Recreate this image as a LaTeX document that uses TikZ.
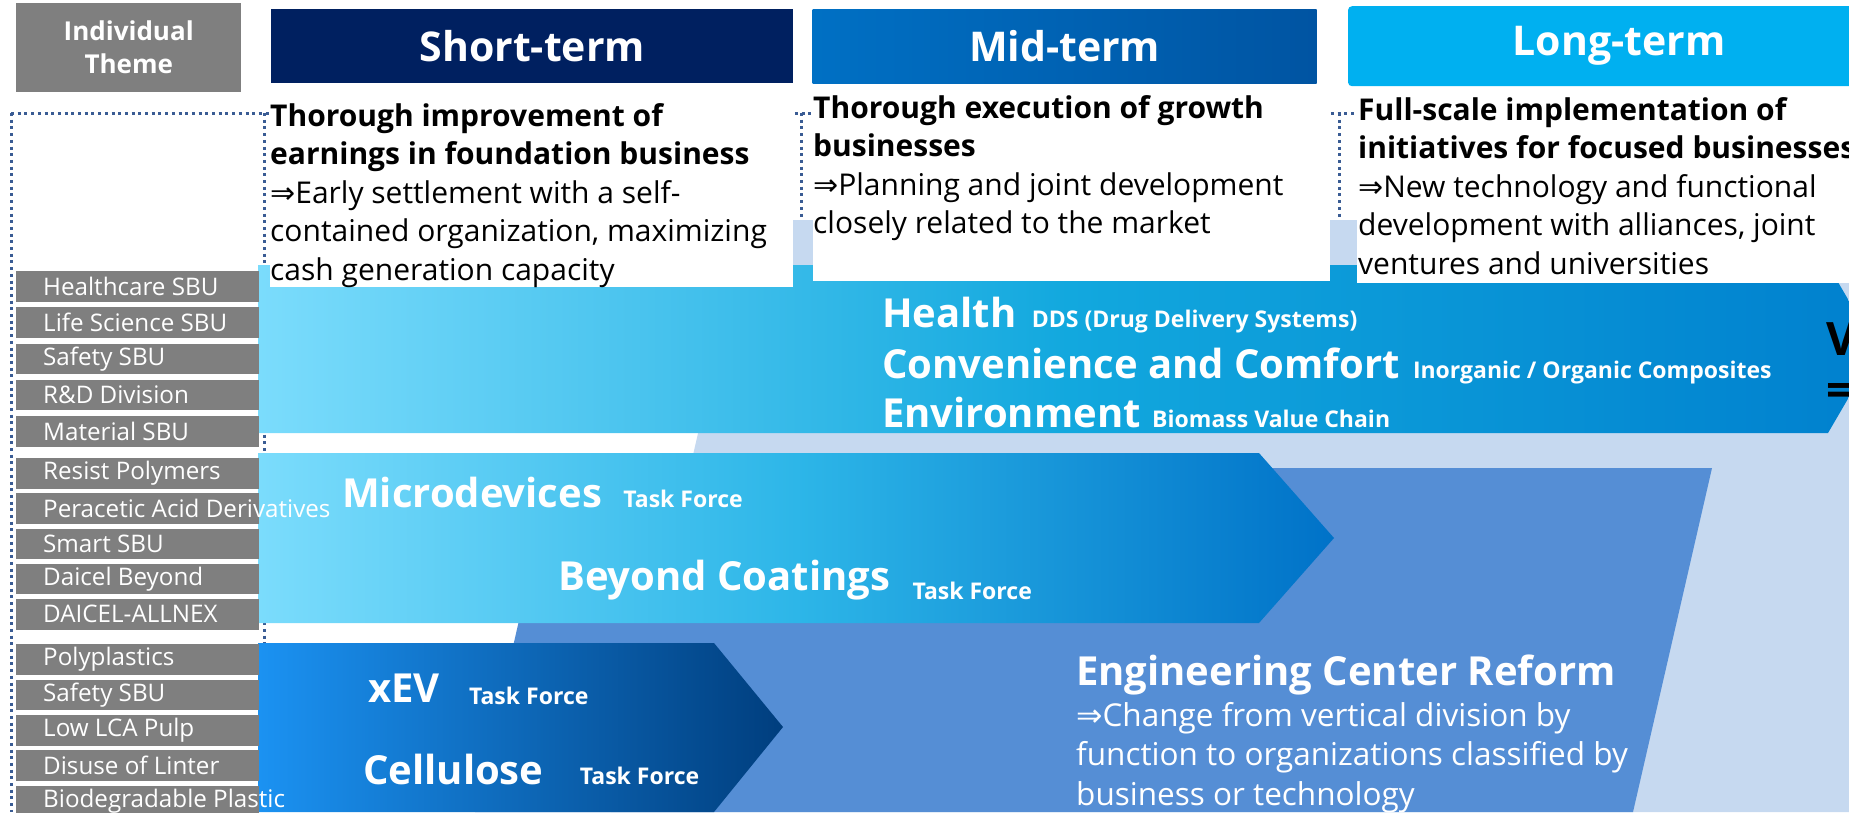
\documentclass[tikz,border=0pt]{standalone}
\usepackage{fontspec}
\setmainfont{Open Sans}
\newfontfamily\arrfont{DejaVu Sans}
\usepackage{tikz}
\usetikzlibrary{shapes,positioning,calc}

\definecolor{themegray}{HTML}{7F7F7F}
\definecolor{shortblue}{HTML}{002060}
\definecolor{midblueL}{HTML}{0070C4}
\definecolor{midblueR}{HTML}{0054A2}
\definecolor{longblue}{HTML}{00B0F0}
\definecolor{dotblue}{HTML}{3A5C94}
\definecolor{paleblue}{HTML}{C6D9F0}
\definecolor{reformblue}{HTML}{558ED5}
\definecolor{cyanL}{HTML}{7BDCFC}
\definecolor{bandM}{HTML}{12A8DE}
\definecolor{bandR}{HTML}{0080CE}
\definecolor{bandtwoM}{HTML}{2DB6E8}
\definecolor{bandtwoR}{HTML}{0072C8}
\definecolor{evL}{HTML}{1B92F2}
\definecolor{evR}{HTML}{003E7E}

\newcommand{\arr}{{\arrfont ⇒}}

\begin{document}
\begin{tikzpicture}[x=1pt, y=-1pt,
    dotline/.style={draw=dotblue, line width=3pt, dash pattern=on 3pt off 3.7pt},
    header/.style={anchor=north west, inner sep=0pt, text=white, font=\bfseries\fontsize{41}{41}\selectfont},
    desc/.style={anchor=north west, align=left, inner sep=0pt, font=\fontsize{30}{38.5}\selectfont},
    big/.style={anchor=base west, inner sep=0pt, text=white, font=\bfseries\fontsize{40}{40}\selectfont},
    small/.style={anchor=base west, inner sep=0pt, text=white, font=\bfseries\fontsize{23}{23}\selectfont},
    themelbl/.style={anchor=west, xshift=27pt, inner sep=0pt, text=white, font=\fontsize{24.2}{25}\selectfont},
    theme/.style={fill=themegray, minimum width=243pt, minimum height=30.5pt, inner sep=0pt, label={[themelbl]west:#1}}]
    \useasboundingbox (0,0) rectangle (1849,812);
    \clip (0,0) rectangle (1849,812);

    % dotted frames
    \draw [dotline] (11,113) -- (1849,113);
    \draw [dotline] (11,113) -- (11,812);
    \draw [dotline] (264,113) -- (264,812);
    \draw [dotline] (801,113) -- (801,812);
    \draw [dotline] (1339,113) -- (1339,812);

    % background shapes and bands
    \fill [paleblue] (747,220) -- (1849,220) -- (1849,812) -- (611,812) -- cycle;
    \fill [reformblue] (554,468) -- (1712,468) -- (1633,812) -- (475,812) -- cycle;
    \shade [left color=cyanL, right color=bandR, middle color=bandM] (258,265) -- (1828,265) -- (1877,349) -- (1828,433) -- (258,433) -- cycle;
    \shade [left color=cyanL, right color=bandtwoR, middle color=bandtwoM] (258,453) -- (1259,453) -- (1334,538) -- (1259,623) -- (258,623) -- cycle;
    \shade [left color=evL, right color=evR] (258,643) -- (714,643) -- (783,727) -- (714,812) -- (258,812) -- cycle;

    \fill [white] (270,95) rectangle (793,287);
    \fill [white] (813,95) rectangle (1330,281);
    \fill [white] (1357,95) rectangle (1849,283);

    % headers
    \node (ind) [fill=themegray, minimum width=225pt, minimum height=89pt, anchor=north west, align=center, text=white, font=\bfseries\fontsize{26}{33}\selectfont] at (16,3) {Individual\\Theme};
    \node (short) [header, fill=shortblue, minimum width=522pt, minimum height=74pt] at (271,9) {Short-term};
    \node (mid) [header, left color=midblueL, right color=midblueR, minimum width=504pt, minimum height=74pt, right=19pt of short] {Mid-term};
    \node (long) [header, fill=longblue, rounded corners=4pt, minimum width=542pt, minimum height=80pt, right=31pt of mid] {Long-term};

    \node (shortdesc) [desc] at (270,103) {\textbf{Thorough improvement of}\\\textbf{earnings in foundation business}\\\arr Early settlement with a self-\\contained organization, maximizing\\cash generation capacity};
    \node (middesc) [desc] at (813,95) {\textbf{Thorough execution of growth}\\\textbf{businesses}\\\arr Planning and joint development\\closely related to the market};
    \node (longdesc) [desc] at (1358,97) {\textbf{Full-scale implementation of}\\\textbf{initiatives for focused businesses}\\\arr New technology and functional\\development with alliances, joint\\ventures and universities};

    % individual themes
    \node (hc) [theme=Healthcare SBU, anchor=north west] at (16,271) {};
    \node (life) [theme=Life Science SBU, below=5.3pt of hc] {};
    \node (safety) [theme=Safety SBU, below=5.3pt of life] {};
    \node (rnd) [theme=R\&D Division, below=5.3pt of safety] {};
    \node (mat) [theme=Material SBU, below=5.3pt of rnd] {};
    \node (resist) [theme=Resist Polymers, below=11.3pt of mat] {};
    \node (peracetic) [theme=Peracetic Acid Derivatives, below=4.3pt of resist] {};
    \node (smart) [theme=Smart SBU, below=4.3pt of peracetic] {};
    \node (beyond) [theme=Daicel Beyond, below=4.3pt of smart] {};
    \node (allnex) [theme=DAICEL-ALLNEX, below=4.3pt of beyond] {};
    \node (poly) [theme=Polyplastics, below=14.3pt of allnex] {};
    \node (safetytwo) [theme=Safety SBU, below=4.5pt of poly] {};
    \node (pulp) [theme=Low LCA Pulp, below=4.5pt of safetytwo] {};
    \node (linter) [theme=Disuse of Linter, below=4.5pt of pulp] {};
    \node (plastic) [theme=Biodegradable Plastic, below=4.5pt of linter] {};

    % band texts
    \node (health) [big] at (882,327) {Health};
    \node (dds) [small] at ([xshift=15pt]health.base east) {DDS (Drug Delivery Systems)};
    \node (comfort) [big] at (882,378) {Convenience and Comfort};
    \node (composite) [small] at ([xshift=13pt]comfort.base east) {Inorganic / Organic Composites};
    \node (environ) [big] at (882,427) {Environment};
    \node (biomass) [small] at ([xshift=11pt]environ.base east) {Biomass Value Chain};

    \node (micro) [big] at (342,507) {Microdevices};
    \node (microtf) [small] at ([xshift=21pt]micro.base east) {Task Force};
    \node (coat) [big] at (558,590) {Beyond Coatings};
    \node (coattf) [small] at ([xshift=22pt, yshift=-9pt]coat.base east) {Task Force};
    \node (xev) [big] at (368,702) {xEV};
    \node (xevtf) [small] at ([xshift=29pt, yshift=-2pt]xev.base east) {Task Force};
    \node (cell) [big] at (363,784) {Cellulose};
    \node (celltf) [small] at ([xshift=36pt]cell.base east) {Task Force};

    \node (reform) [big] at (1076,685) {Engineering Center Reform};
    \node (reformdesc) [anchor=north west, align=left, inner sep=0pt, text=white, font=\fontsize{31.5}{39.5}\selectfont] at (1076,702) {\arr Change from vertical division by\\function to organizations classified by\\business or technology};

    \node (vis) [anchor=base west, inner sep=0pt, font=\bfseries\fontsize{46}{46}\selectfont] at (1826,355) {V};
    \node (eq) [anchor=base west, inner sep=0pt, font=\bfseries\fontsize{46}{46}\selectfont] at (1826,406) {=};
\end{tikzpicture}
\end{document}
